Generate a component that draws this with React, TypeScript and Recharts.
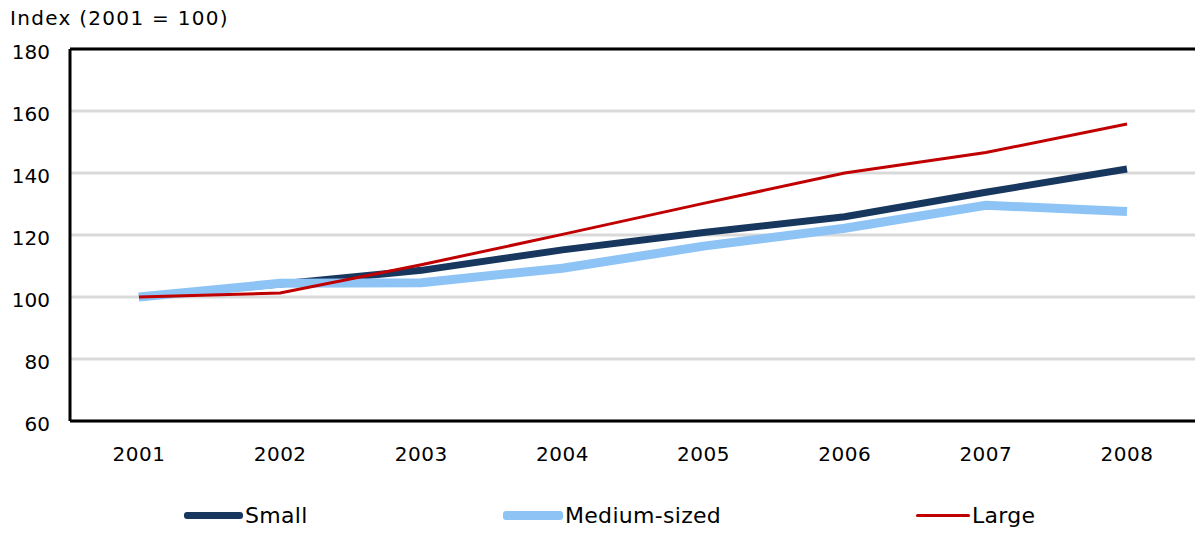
import React from "react";
import { LineChart, Line, XAxis, YAxis, CartesianGrid, ReferenceLine, Legend } from "recharts";

const years = ["2001", "2002", "2003", "2004", "2005", "2006", "2007", "2008"];
const small = [100, 104.2, 108.6, 115.2, 120.8, 125.9, 133.8, 141.3];
const medium = [100, 104.4, 104.6, 109.3, 116.4, 122.2, 129.6, 127.6];
const large = [100, 101.3, 110.4, 120.2, 130.2, 140.0, 146.6, 155.8];
const yTicks = [60, 80, 100, 120, 140, 160, 180];

const seriesNames = ["Small", "Medium-sized", "Large"];
const seriesColors = ["#17375E", "#8EC4F5", "#C00000"];
const seriesWidths = [7, 9, 3];
const legendX = [184, 503, 916];
const legendMarkerW = [59, 60, 54];

const data = years.map((y, i) => ({ year: y, Small: small[i], "Medium-sized": medium[i], Large: large[i] }));

const FONT = "'DejaVu Sans', Verdana, sans-serif";

const LegendContent = () => (
  <div style={{ position: "relative", width: 1195, height: 34, fontFamily: FONT, fontSize: 22 }}>
    {seriesNames.map((n, i) => (
      <div key={n} style={{ position: "absolute", left: legendX[i], top: 3, display: "flex", alignItems: "center", color: "#000" }}>
        <div style={{ width: legendMarkerW[i], height: seriesWidths[i], background: seriesColors[i], borderRadius: 3 }} />
        <span style={{ marginLeft: 2, letterSpacing: 0.3 }}>{n}</span>
      </div>
    ))}
  </div>
);

export default function App() {
  return (
    <div style={{ position: "absolute", left: 0, top: 0, width: 1195, height: 534, overflow: "hidden", background: "#fff" }}>
      <div style={{ position: "absolute", left: 10, top: 6, fontFamily: FONT, fontSize: 20, letterSpacing: 1.3, color: "#000", zIndex: 2 }}>
        Index (2001 = 100)
      </div>
      <LineChart width={1200} height={534} data={data} margin={{ top: 49, right: 2, left: 0, bottom: 0 }}>
        <CartesianGrid vertical={false} stroke="#D9D9D9" strokeWidth={3} />
        <XAxis
          dataKey="year"
          padding={{ left: 69, right: 71 }}
          height={79}
          tickLine={false}
          axisLine={{ stroke: "#000", strokeWidth: 3 }}
          tickMargin={20}
          tick={{ fill: "#000", fontSize: 20, fontFamily: FONT, letterSpacing: 0.5 }}
        />
        <YAxis
          width={70}
          domain={[60, 180]}
          ticks={yTicks}
          interval={0}
          tickLine={false}
          tickSize={0}
          tickMargin={20}
          axisLine={{ stroke: "#000", strokeWidth: 3 }}
          tick={{ fill: "#000", fontSize: 20, fontFamily: FONT, dy: 3 }}
        />
        <ReferenceLine y={180} stroke="#000" strokeWidth={3} />
        <Legend verticalAlign="bottom" height={34} content={LegendContent} />
        {seriesNames.map((n, i) => (
          <Line
            key={n}
            dataKey={n}
            type="linear"
            stroke={seriesColors[i]}
            strokeWidth={seriesWidths[i]}
            dot={false}
            activeDot={false}
            isAnimationActive={false}
          />
        ))}
      </LineChart>
    </div>
  );
}
